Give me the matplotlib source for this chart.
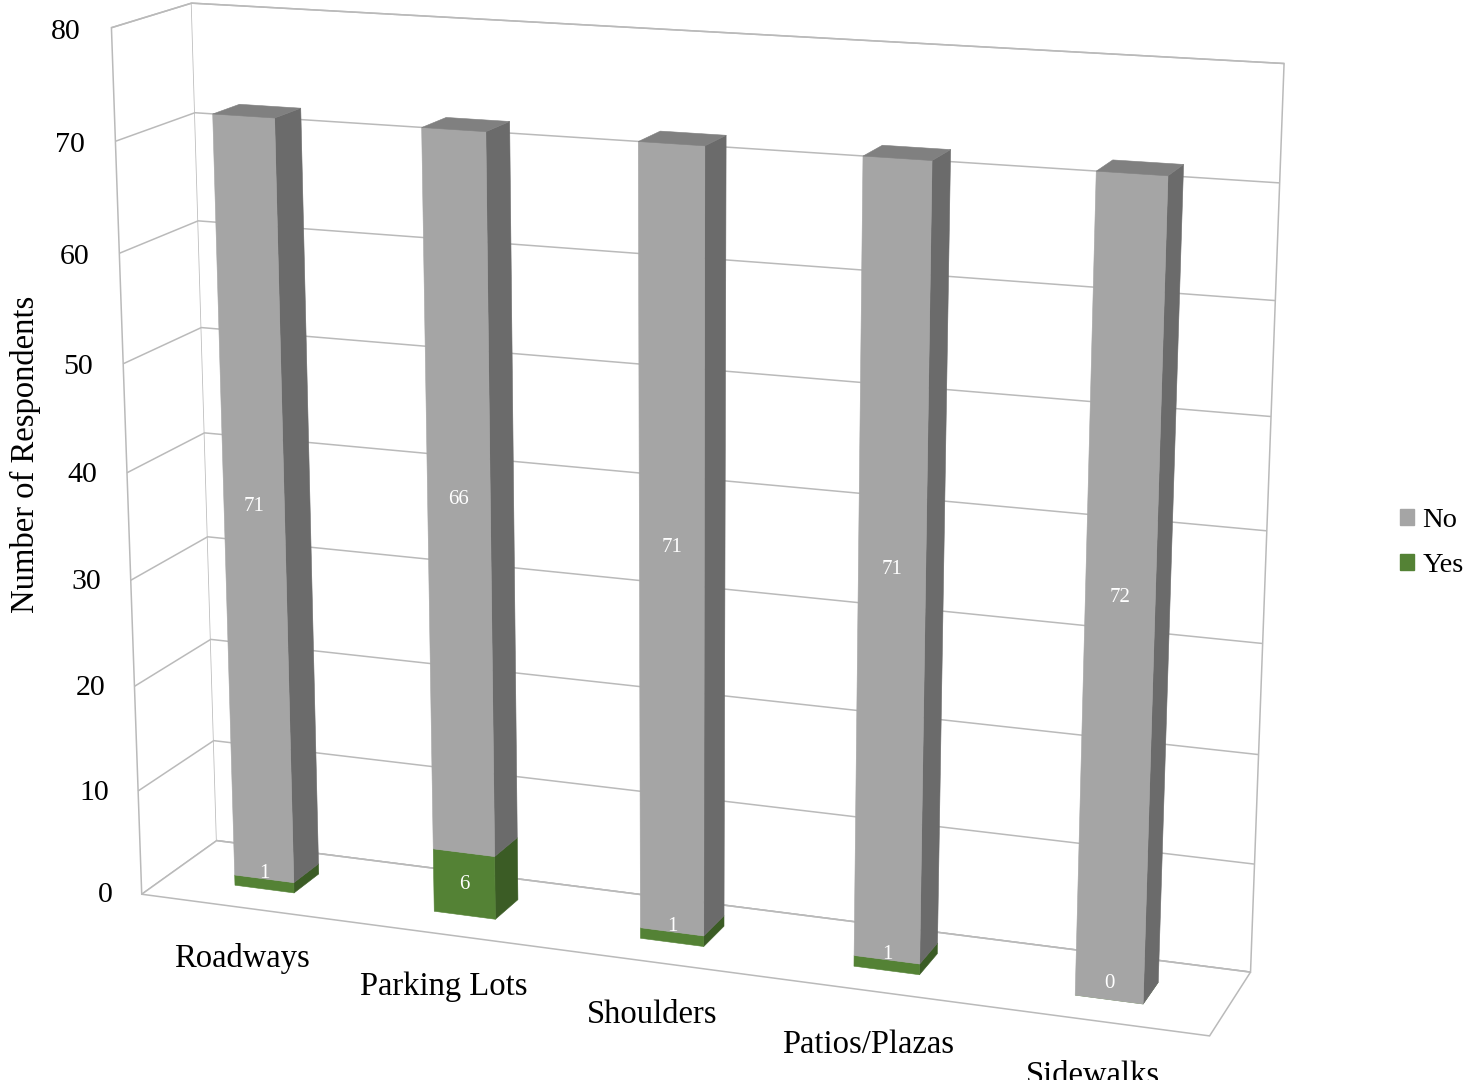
import numpy as np
import matplotlib
matplotlib.use('Agg')
import matplotlib.pyplot as plt
from matplotlib.patches import Patch

categories = ['Roadways', 'Parking Lots', 'Shoulders', 'Patios/Plazas', 'Sidewalks']
yes = [1, 6, 1, 1, 0]
no = [71, 66, 71, 71, 72]
z_ticks = list(range(0, 90, 10))

gray_front, gray_side, gray_top = '#a5a5a5', '#6b6b6b', '#808080'
green_front, green_side, green_top = '#548235', '#3b5c25', '#46702c'
line_col = '#bababa'

plt.rcParams['font.family'] = ['Liberation Serif', 'DejaVu Serif']
plt.rcParams['grid.color'] = line_col
plt.rcParams['grid.linewidth'] = 1.1

fig = plt.figure(figsize=(14.68, 10.8), dpi=100)
ax = fig.add_axes([-0.0055, 0.002, 0.92, 1.04], projection='3d')
ax.set_proj_type('persp', focal_length=0.7)
ax.view_init(elev=15, azim=-70)

n = len(categories)
depth = 0.78     # floor depth in category units
bw = 0.3         # bar width
bd = 0.27        # bar depth
y0 = (depth - bd) / 2
ax.set_box_aspect((n, depth, 4.0), zoom=1.279)
ax.set_xlim(-0.5, n - 0.5)
ax.set_ylim(0, depth)
ax.set_zlim(0, 80)

# walls and floor
for axis in (ax.xaxis, ax.yaxis, ax.zaxis):
    axis.set_pane_color((1, 1, 1, 1))
    axis.pane.set_edgecolor(line_col)
    axis.pane.set_linewidth(1.1)
    axis.line.set_color((1, 1, 1, 0))
ax.set_xticks([])
ax.set_yticks([])
ax.set_zticks(z_ticks)
ax.set_zticklabels([])
ax.tick_params(axis='z', color=(1, 1, 1, 0))
# front edge of the side wall
ax.plot([-0.5, -0.5], [0, 0], [0, 80], color=line_col, lw=1.1)

# stacked columns: faces ordered -z, +z, -y, +y, -x, +x
none = (0, 0, 0, 0)
xs = np.arange(n) - bw / 2
x_all = np.concatenate([xs, xs])
z_all = np.concatenate([np.zeros(n), np.array(yes, float)])
h_all = np.concatenate([np.array(yes, float), np.array(no, float)])
faces = []
for i in range(n):
    faces += [none, none, green_front, none, none, green_side]
for i in range(n):
    faces += [none, gray_top, gray_front, none, none, gray_side]
ax.bar3d(x_all, np.full(2 * n, y0), z_all, bw, bd, h_all,
         color=faces, edgecolor=faces, linewidth=0.4, shade=False)

# value labels
for i in range(n):
    ax.text(i, y0, max(yes[i] / 2, 1.5), str(yes[i]), color='white', fontsize=15,
            ha='center', va='center', zorder=100)
    ax.text(i, y0, yes[i] + no[i] / 2, str(no[i]), color='white', fontsize=15,
            ha='center', va='center', zorder=100)

# axis labels
for t in z_ticks:
    ax.text(-0.65, 0, t - 0.5, str(t), fontsize=21.5, ha='right', va='center', zorder=100)
for i, c in enumerate(categories):
    ax.text(i, 0, -5.0, c, fontsize=23.5, ha='center', va='center', zorder=100)

fig.text(0.0175, 0.579, 'Number of Respondents', rotation=90, fontsize=23.5,
         ha='center', va='center')
fig.legend(handles=[Patch(color=gray_front, label='No'),
                    Patch(color=green_front, label='Yes')],
           loc='center left', bbox_to_anchor=(0.936, 0.497), frameon=False,
           fontsize=20.5, handlelength=0.5, handleheight=0.5, handletextpad=0.3,
           labelspacing=0.7)

fig.savefig('out.png', dpi=100)
